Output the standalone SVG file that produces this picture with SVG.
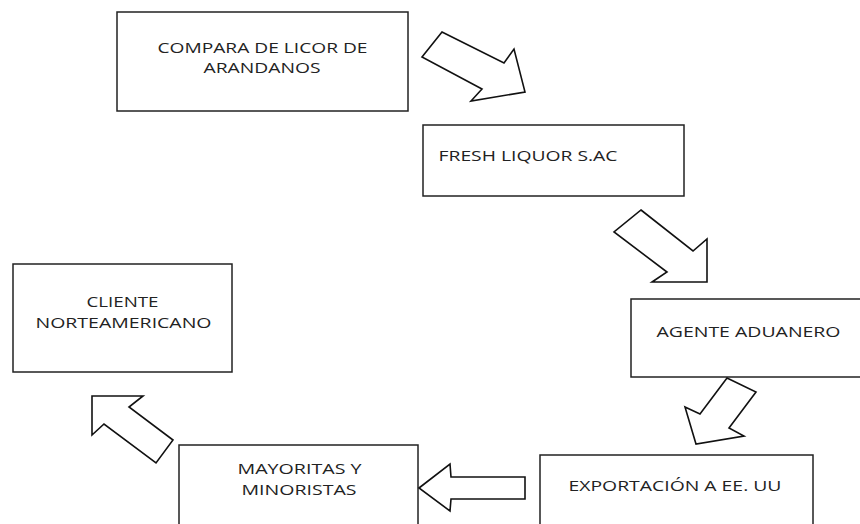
<svg xmlns="http://www.w3.org/2000/svg" width="860" height="524" viewBox="0 0 860 524">
<style>
.box{fill:#fff;stroke:#222;stroke-width:1.5}
.arr{fill:#fff;stroke:#111;stroke-width:1.6;stroke-linejoin:miter}
text{font-family:"Open Sans","Liberation Sans",sans-serif;font-size:15px;fill:#222}
</style>
<rect width="860" height="524" fill="#fff"/>
<g id="n1"><rect class="box" x="117" y="12" width="291" height="99"/>
<text x="157.5" y="53" textLength="210" lengthAdjust="spacingAndGlyphs">COMPARA DE LICOR DE</text>
<text x="203.5" y="73" textLength="117" lengthAdjust="spacingAndGlyphs">ARANDANOS</text></g>
<g id="n2"><rect class="box" x="423" y="125" width="261" height="71"/>
<text x="438.5" y="161" textLength="179" lengthAdjust="spacingAndGlyphs">FRESH LIQUOR S.AC</text></g>
<g id="n3"><rect class="box" x="631" y="299" width="240" height="78"/>
<text x="656.5" y="337" textLength="184" lengthAdjust="spacingAndGlyphs">AGENTE ADUANERO</text></g>
<g id="n4"><rect class="box" x="540" y="455" width="273" height="80"/>
<text x="568.5" y="491" textLength="213" lengthAdjust="spacingAndGlyphs">EXPORTACIÓN A EE. UU</text></g>
<g id="n5"><rect class="box" x="179" y="445" width="239" height="90"/>
<text x="237.5" y="474" textLength="124" lengthAdjust="spacingAndGlyphs">MAYORITAS Y</text>
<text x="241.5" y="495" textLength="115" lengthAdjust="spacingAndGlyphs">MINORISTAS</text></g>
<g id="n6"><rect class="box" x="13" y="264" width="219" height="108"/>
<text x="86.5" y="307" textLength="72" lengthAdjust="spacingAndGlyphs">CLIENTE</text>
<text x="35.5" y="328" textLength="176" lengthAdjust="spacingAndGlyphs">NORTEAMERICANO</text></g>
<g id="connectors">
<polygon class="arr" points="442,32 504,63 514,49 525,92 471,101 482,89 422,57"/>
<polygon class="arr" points="641,210 693,251 707,239 707,282 652,282 667,272 614,232"/>
<polygon class="arr" points="727,378 756,392 729,428 744,436 696,444 685,407 700,414"/>
<polygon class="arr" points="419,488 450,464 451,477 525,477 525,499 451,499 450,511"/>
<polygon class="arr" points="92,396 143,396 129,407 173,440 156,463 104,424 92,435"/>
</g>
</svg>
